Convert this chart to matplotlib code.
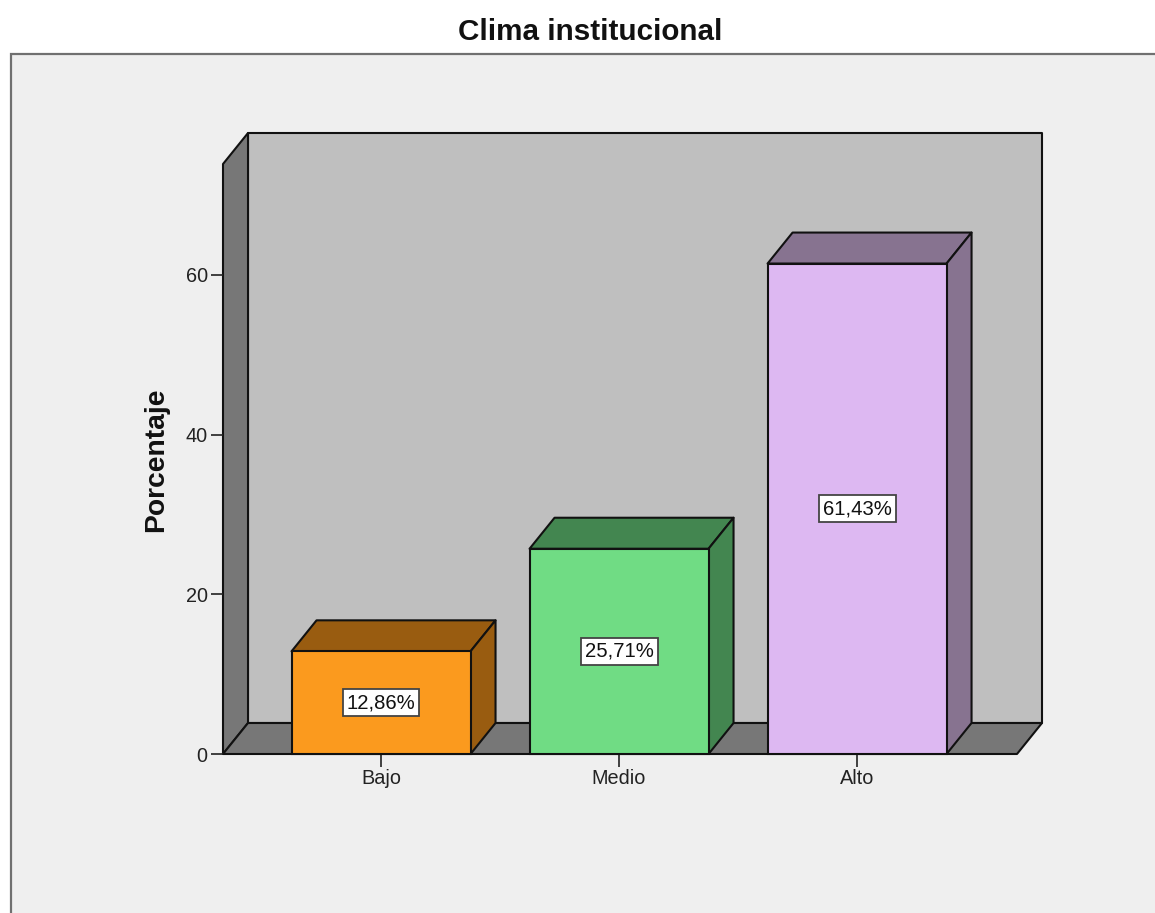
import matplotlib

matplotlib.use("Agg")
import matplotlib.pyplot as plt
from matplotlib.patches import Polygon, Rectangle

plt.rcParams["font.family"] = ["Liberation Sans", "DejaVu Sans"]

# --- datos ---
CATEGORIES = ["Bajo", "Medio", "Alto"]
PERCENTS = [12.86, 25.71, 61.43]
LABELS = ["12,86%", "25,71%", "61,43%"]
Y_TICKS = [0, 20, 40, 60]

# --- colores ---
PANEL = "#efefef"
WALL = "#bfbfbf"
WALL_DARK = "#777777"
FRONT = ["#fb9a1e", "#70dc84", "#ddb8f2"]
SHADE = ["#995c10", "#438650", "#877390"]
EDGE = "#111111"

W, H = 1155, 913
X0, X1, Y0, Y1 = 223, 1017, 754, 164  # caja frontal, en pixeles
XMIN, XMAX = -0.664, 2.672
YMAX = 73.9
DX = 25 / 238  # profundidad de la vista 3D
DY = 31 / ((Y0 - Y1) / YMAX)
BAR_W = 0.752

fig = plt.figure(figsize=(W / 100, H / 100), dpi=100, facecolor="white")
# el panel va detras de los ejes
fig.patches.append(Rectangle((11 / W, -0.02), 1.1, (H - 54) / H + 0.02,
                             transform=fig.transFigure, facecolor=PANEL,
                             edgecolor="#707070", lw=1.6, zorder=-1))
ax = fig.add_axes([X0 / W, (H - Y0) / H, (X1 - X0) / W, (Y0 - Y1) / H])
ax.set_xlim(XMIN, XMAX)
ax.set_ylim(0, YMAX)
ax.patch.set_visible(False)
for s in ax.spines.values():
    s.set_visible(False)


def face(points, color, z):
    ax.add_patch(Polygon(points, closed=True, facecolor=color, edgecolor=EDGE,
                         lw=1.5, joinstyle="round", clip_on=False, zorder=z))


# paredes de la caja
face([(XMIN + DX, DY), (XMAX + DX, DY), (XMAX + DX, YMAX + DY), (XMIN + DX, YMAX + DY)], WALL, 1)
face([(XMIN, 0), (XMIN + DX, DY), (XMIN + DX, YMAX + DY), (XMIN, YMAX)], WALL_DARK, 1.1)
face([(XMIN, 0), (XMAX, 0), (XMAX + DX, DY), (XMIN + DX, DY)], WALL_DARK, 1.1)

# barras con su cara superior y lateral
positions = list(range(len(CATEGORIES)))
ax.bar(positions, PERCENTS, width=BAR_W, color=FRONT, edgecolor=EDGE, lw=1.5,
       clip_on=False, zorder=3)
for x, v, dark in zip(positions, PERCENTS, SHADE):
    l, r = x - BAR_W / 2, x + BAR_W / 2
    face([(l, v), (r, v), (r + DX, v + DY), (l + DX, v + DY)], dark, 2.5)
    face([(r, 0), (r + DX, DY), (r + DX, v + DY), (r, v)], dark, 2.5)

for x, v, text in zip(positions, PERCENTS, LABELS):
    ax.text(x, v / 2, text, ha="center", va="center", fontsize=14.6, color="#111111",
            zorder=5, bbox=dict(boxstyle="square,pad=0.2", facecolor="white",
                                edgecolor="#444444", lw=1.3))

ax.set_xticks(positions, CATEGORIES)
ax.set_yticks(Y_TICKS)
ax.tick_params(axis="both", length=9, width=1.2, color="#222222", labelsize=14.3,
               labelcolor="#222222", pad=2)
ax.set_ylabel("Porcentaje", fontsize=20.3, fontweight="bold", color="#111111", labelpad=0)
ax.yaxis.set_label_coords((169 - X0) / (X1 - X0), (Y0 - 460) / (Y0 - Y1))

fig.text(590 / W, (H - 31.5) / H, "Clima institucional", ha="center", va="center",
         fontsize=21.3, fontweight="bold", color="#111111")

fig.savefig("out.png", dpi=100, facecolor="white")
plt.close(fig)
